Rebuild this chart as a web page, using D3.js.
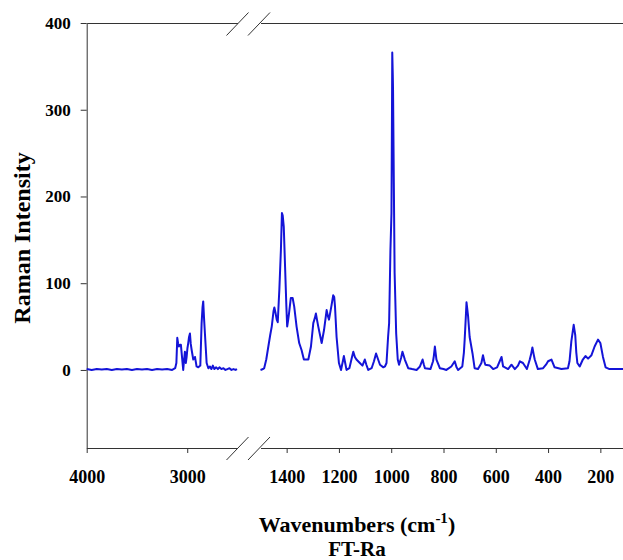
<!DOCTYPE html>
<html>
<head>
<meta charset="utf-8">
<script src="https://cdn.jsdelivr.net/npm/d3@7"></script>
<style>
  body { margin: 0; background: #fff; }
  text { font-family: "Liberation Serif", "Times New Roman", serif; font-weight: bold; fill: #000; }
</style>
</head>
<body>
<div id="chart"></div>
<script>
// high wavenumber segment (left of the break)
var leftWavenumbers = [4000, 3950, 3900, 3850, 3800, 3750, 3700, 3650, 3600, 3550, 3500, 3450, 3400, 3350, 3300, 3250, 3200, 3150, 3120, 3108,
    3099, 3090, 3083, 3073, 3063, 3052, 3040, 3031, 3023, 3014, 3006, 2998, 2990, 2982, 2973, 2965, 2956, 2940, 2923, 2907, 2890, 2870, 2857,
    2848, 2841, 2833, 2824, 2807, 2790, 2774, 2760, 2745, 2730, 2712, 2695, 2680, 2660, 2640, 2620, 2600, 2580, 2560, 2540, 2520, 2505];
var leftIntensity = [1, 0, 1, 0.5, 1, 0, 1, 0.5, 1, 0, 1, 0.5, 1, 0, 1, 0.5, 1, 0, 2, 8,
    37, 30, 27, 29, 29, 15, 0, 12, 21, 8, 15, 25, 31, 38, 42, 30, 23, 12, 15, 4, 3, 5, 54,
    72, 79, 60, 42, 8, 2, 4, 1, 5, 1, 3, 1, 3, 1, 2, 0, 1, 2, 0, 1, 0, 1];

// low wavenumber segment (right of the break)
var rightWavenumbers = [1500, 1490, 1486, 1478, 1470, 1463, 1457, 1450, 1447, 1442, 1438, 1434, 1430, 1428, 1422, 1418, 1415, 1411, 1406,
    1401, 1398, 1394, 1391, 1384, 1377, 1371, 1362, 1352, 1343, 1334, 1317, 1307, 1298, 1292, 1288, 1284, 1279, 1266, 1257, 1247, 1242, 1238,
    1228, 1222, 1218, 1215, 1209, 1200, 1192, 1185, 1181, 1176, 1171, 1160, 1150, 1145, 1139, 1133, 1120, 1110, 1101, 1095, 1088, 1075, 1066,
    1058, 1050, 1043, 1030, 1024, 1018, 1012, 1008, 1005, 1003, 999, 997, 996, 994, 993, 990, 987, 981, 975, 970, 962, 957, 952, 948, 935,
    920, 903, 890, 880, 875, 871, 850, 840, 837, 833, 827, 814, 800, 789, 770, 757, 750, 744, 728, 722, 719, 714, 712, 709, 706, 700, 689,
    681, 668, 655, 649, 644, 640, 623, 610, 595, 585, 578, 572, 553, 540, 527, 515, 508, 496, 481, 470, 465, 460, 455, 451, 439, 419, 408,
    400, 387, 375, 349, 324, 318, 311, 302, 296, 292, 288, 279, 267, 257, 247, 234, 222, 209, 200, 190, 180, 165, 140, 110];
var rightIntensity = [0, 1, 2, 12, 27, 40, 50, 68, 72, 65, 58, 55, 80, 92, 138, 181, 178, 165, 119,
    73, 50, 58, 65, 83, 83, 73, 50, 31, 23, 12, 12, 27, 54, 60, 65, 58, 50, 31, 46, 69, 62, 58,
    75, 86, 84, 73, 38, 8, 0, 10, 16, 8, 0, 2, 15, 21, 15, 12, 8, 5, 12, 6, 0, 2, 10,
    19, 12, 6, 3, 4, 8, 38, 54, 104, 138, 181, 300, 366, 340, 323, 215, 112, 42, 12, 6, 14, 21, 16, 12, 2,
    1, 0, 4, 12, 6, 2, 1, 10, 16, 27, 12, 2, 1, 0, 4, 10, 3, 0, 4, 20, 35, 65, 78, 70, 62, 38, 19,
    2, 1, 8, 17, 10, 6, 5, 1, 3, 10, 15, 4, 1, 6, 1, 5, 10, 8, 1, 12, 18, 26, 18, 12, 1, 2, 6,
    10, 12, 3, 1, 2, 10, 33, 52, 40, 20, 8, 4, 12, 16, 13, 17, 27, 35, 31, 15, 3, 1, 1, 1];

var leftTicks = [4000, 3000];
var rightTicks = [1400, 1200, 1000, 800, 600, 400, 200];
var yTicks = [0, 100, 200, 300, 400];

var width = 623, height = 560;

var svg = d3.select("#chart")
    .append("svg")
    .attr("width", width)
    .attr("height", height);

// scales: broken x axis made of two linear pieces
var xLeft = d3.scaleLinear().domain([4000, 2500]).range([86.7, 237.5]);
var xRight = d3.scaleLinear().domain([1500, 100]).range([260.5, 626.5]);
var y = d3.scaleLinear().domain([-90, 400]).range([448, 23]);

function styleAxis(g) {
    g.selectAll("path, line").attr("stroke", "#333").attr("stroke-width", 1);
    g.selectAll("text").attr("font-size", 18).attr("font-family", "Liberation Serif, serif").attr("font-weight", "bold");
}

// bottom axes
svg.append("g")
    .attr("transform", "translate(0,448)")
    .call(d3.axisBottom(xLeft).tickValues(leftTicks).tickSize(5).tickSizeOuter(0).tickPadding(17).tickFormat(d3.format("d")))
    .call(styleAxis);
svg.append("g")
    .attr("transform", "translate(0,448)")
    .call(d3.axisBottom(xRight).tickValues(rightTicks).tickSize(5).tickSizeOuter(0).tickPadding(17).tickFormat(d3.format("d")))
    .call(styleAxis);

// top lines (no ticks)
svg.append("g")
    .attr("transform", "translate(0,23)")
    .call(d3.axisTop(xLeft).tickValues([]).tickSizeOuter(0))
    .call(styleAxis);
svg.append("g")
    .attr("transform", "translate(0,23)")
    .call(d3.axisTop(xRight).tickValues([]).tickSizeOuter(0))
    .call(styleAxis);

// y axis
svg.append("g")
    .attr("transform", "translate(86.7,0)")
    .call(d3.axisLeft(y).tickValues(yTicks).tickSize(6).tickSizeOuter(0).tickPadding(10))
    .call(styleAxis)
    .selectAll("text").attr("font-size", 17);

// break marks
[xLeft(2500), xRight(1500) - 1.5].forEach(function (bx) {
    [448.5, 24].forEach(function (by) {
        svg.append("line")
            .attr("x1", bx - 11).attr("y1", by + 11.5)
            .attr("x2", bx + 11).attr("y2", by - 11.5)
            .attr("stroke", "#333")
            .attr("stroke-width", 1);
    });
});

// spectrum lines
var leftData = leftWavenumbers.map(function (w, i) { return { w: w, v: leftIntensity[i] }; });
var rightData = rightWavenumbers.map(function (w, i) { return { w: w, v: rightIntensity[i] }; });

svg.append("path")
    .datum(leftData)
    .attr("fill", "none")
    .attr("stroke", "#1414d8")
    .attr("stroke-width", 2)
    .attr("stroke-linejoin", "round")
    .attr("d", d3.line()
        .x(function (d) { return xLeft(d.w); })
        .y(function (d) { return y(d.v); }));

svg.append("path")
    .datum(rightData)
    .attr("fill", "none")
    .attr("stroke", "#1414d8")
    .attr("stroke-width", 2)
    .attr("stroke-linejoin", "round")
    .attr("d", d3.line()
        .x(function (d) { return xRight(d.w); })
        .y(function (d) { return y(d.v); }));

// axis titles
var xTitle = svg.append("text")
    .attr("x", 357)
    .attr("y", 532)
    .attr("text-anchor", "middle")
    .attr("font-size", 22);
xTitle.append("tspan").text("Wavenumbers (cm");
xTitle.append("tspan").attr("font-size", 15).attr("dy", -9).text("-1");
xTitle.append("tspan").attr("dy", 9).text(")");

svg.append("text")
    .attr("x", 357)
    .attr("y", 556)
    .attr("text-anchor", "middle")
    .attr("font-size", 21)
    .text("FT-Ra");

svg.append("text")
    .attr("transform", "translate(30,238) rotate(-90)")
    .attr("text-anchor", "middle")
    .attr("font-size", 24)
    .text("Raman Intensity");
</script>
</body>
</html>
